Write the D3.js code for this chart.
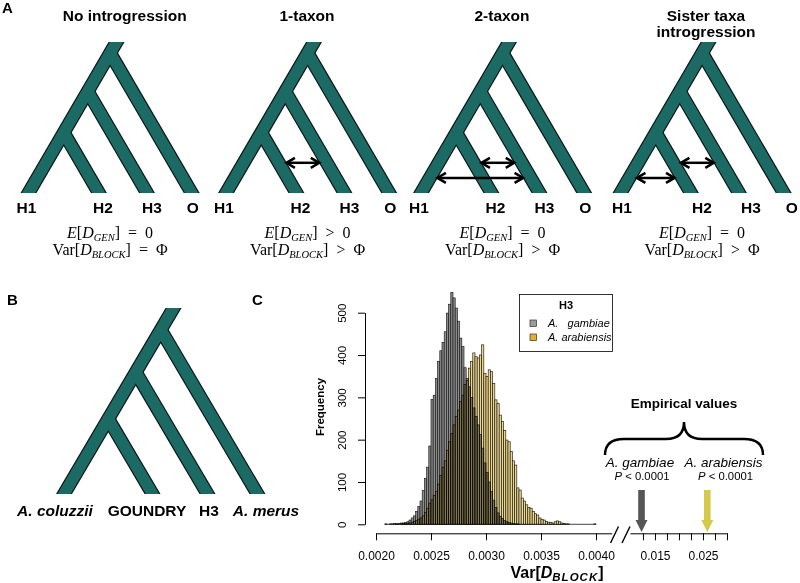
<!DOCTYPE html>
<html><head><meta charset="utf-8">
<script src="https://cdn.jsdelivr.net/npm/d3@7"></script>
<style>body{margin:0;background:#fff} svg{display:block}</style>
</head><body>
<svg id="c" width="800" height="583"></svg>
<script>
// ---------------- data ----------------
const panelATitles = [["No introgression"], ["1-taxon"], ["2-taxon"], ["Sister taxa", "introgression"]];
const leafLabels = ["H1", "H2", "H3", "O"];
const splitDepthsA = [0.40, 0.673, 0.927];          // relative split heights (H2, H3, O)
const genOps = ["=", ">", "=", "="];
const blockOps = ["=", ">", ">", ">"];
// introgression arrows: [from leaf, to leaf, relative height]
const introgression = [
  [],
  [["H2", "H3", 0.2]],
  [["H2", "H3", 0.2], ["H1", "H3", 0.1]],
  [["H2", "H3", 0.2], ["H1", "H2", 0.1]]
];

const leafLabelsB = ["A. coluzzii", "GOUNDRY", "H3", "A. merus"];
const leafItalicB = [true, false, false, true];
const splitDepthsB = [0.404, 0.655, 0.883];

const binStart = 0.00208, binWidth = 0.00002;
const gambiae = [1,0,1,1,2,1,2,3,3,4, 6,10,15,20,30,42,55,80,108,135,
  185,295,305,345,385,410,430,455,499,520, 548,535,511,480,440,420,370,345,325,300,
  275,255,235,212,180,145,122,100,78,57, 40,27,19,14,9,6,4,3,2,1, 1];
const arabiensis = [0,0,0,0,0,1,0,1,2,2, 2,3,5,7,9,12,15,20,28,38,
  50,58,68,78,95,115,135,150,175,195, 215,235,255,270,290,305,330,340,369,385,
  405,396,393,400,424,357,349,365,361,333, 294,286,258,243,222,199,195,172,150,140,
  86,81,62,55,46,40,38,30,25,22, 15,12,10,7,5,4,3,6,8,6,
  3,2,1,1,0,0,0,0,0,0, 0,0,0,0,0,1];
const yTicks = [0, 100, 200, 300, 400, 500];
const xTicksLeft = [0.0020, 0.0025, 0.0030, 0.0035, 0.0040];
const xTicksRight = [0.0125, 0.015, 0.0175, 0.020, 0.0225, 0.025, 0.0275, 0.030];
const xTickLabelsRight = [0.015, 0.025];
const seriesNames = ["A.   gambiae", "A. arabiensis"];
const empirical = [
  { name: "A. gambiae", value: 0.0122, p: "< 0.0001" },
  { name: "A. arabiensis", value: 0.0259, p: "< 0.0001" }
];

// ---------------- style / layout ----------------
const SANS = "'Liberation Sans', Arial, Helvetica, sans-serif";
const SERIF = "'Liberation Serif', 'Times New Roman', serif";
const TEAL = "#1b6b64";
const svg = d3.select("#c");

function panelLetter(t, x, y) {
  svg.append("text").attr("x", x).attr("y", y).attr("font-family", SANS)
    .attr("font-weight", "bold").attr("font-size", 15).text(t);
}
panelLetter("A", 2, 13);
panelLetter("B", 7, 305);
panelLetter("C", 252, 305);

let clipN = 0;
function drawTree(x0, base, top, depths, slope) {
  const H = base - top;
  const hy = d3.scaleLinear().domain([0, 1]).range([0, H]);
  const ext = 14;
  const leafX = [x0].concat(depths.map(d => x0 + 2 * slope * hy(d)));
  const segs = [[[x0 - slope * ext, base + ext], [x0 + slope * (H + ext), top - ext]]];
  depths.forEach((d, i) => {
    const h = hy(d);
    segs.push([[x0 + slope * h, base - h], [leafX[i + 1] + slope * ext, base + ext]]);
  });
  const id = "clip" + (clipN++);
  svg.append("clipPath").attr("id", id).append("rect")
    .attr("x", x0 - 60).attr("y", top).attr("width", 320).attr("height", H);
  const g = svg.append("g").attr("clip-path", `url(#${id})`);
  const line = d3.line();
  g.selectAll("path.o").data(segs).join("path").attr("class", "o")
    .attr("d", line).attr("stroke", "#0d1614").attr("stroke-width", 13.8).attr("fill", "none");
  g.selectAll("path.i").data(segs).join("path").attr("class", "i")
    .attr("d", line).attr("stroke", TEAL).attr("stroke-width", 11.4).attr("fill", "none");
  return {
    leafX,
    branchX: (idx, h) => idx === 0 ? x0 + slope * h : leafX[idx] - slope * h,
    hy
  };
}

function dblArrow(xa, xb, y) {
  const g = svg.append("g").attr("stroke", "#000").attr("stroke-width", 2.5).attr("fill", "none")
    .attr("stroke-linejoin", "miter");
  g.append("line").attr("x1", xa + 1).attr("x2", xb - 1).attr("y1", y).attr("y2", y);
  g.append("path").attr("d", `M${xb - 8.5},${y - 5}L${xb},${y}L${xb - 8.5},${y + 5}`);
  g.append("path").attr("d", `M${xa + 8.5},${y - 5}L${xa},${y}L${xa + 8.5},${y + 5}`);
}

function formulaLine(cx, y, parts) {
  const t = svg.append("text").attr("x", cx).attr("y", y).attr("text-anchor", "middle")
    .style("white-space", "pre").attr("font-family", SERIF).attr("font-size", 16);
  parts.forEach(p => {
    const ts = t.append("tspan").text(p.t);
    if (p.it) ts.attr("font-style", "italic");
    if (p.sub) ts.attr("font-size", 10.5).attr("dy", 3);
    if (p.up) ts.attr("dy", -3);
  });
}

// ---------------- Panel A ----------------
const treeX0 = [28.5, 226, 421, 620.5];
const titleX = [124.7, 307, 502, 706];
const labelShift = [0, 0, 0, 7];
const labelOff = [-2, 4, 5, 1];
const slopeA = 0.583, baseA = 193, topA = 42;
treeX0.forEach((x0, k) => {
  // title
  panelATitles[k].forEach((line, j) => {
    svg.append("text").attr("x", titleX[k]).attr("y", 21 + j * 16).attr("text-anchor", "middle")
      .attr("font-family", SANS).attr("font-weight", "bold").attr("font-size", 15.5).text(line);
  });
  const tr = drawTree(x0, baseA, topA, splitDepthsA, slopeA);
  // leaf labels
  leafLabels.forEach((lab, i) => {
    svg.append("text").attr("x", tr.leafX[i] + labelOff[i] + labelShift[k] * (i === 0 ? 0.5 : 1))
      .attr("y", 213).attr("text-anchor", "middle").attr("font-family", SANS)
      .attr("font-weight", "bold").attr("font-size", 15.5).text(lab);
  });
  // introgression arrows
  const halfW = 7.6;
  introgression[k].forEach(([a, b, d]) => {
    const ia = leafLabels.indexOf(a), ib = leafLabels.indexOf(b);
    const h = tr.hy(d);
    dblArrow(tr.branchX(ia, h) + halfW, tr.branchX(ib, h) - halfW, baseA - h);
  });
  // formulas
  const cx = (tr.leafX[0] + tr.leafX[3]) / 2;
  formulaLine(cx, 238, [{ t: "E", it: 1 }, { t: "[" }, { t: "D", it: 1 }, { t: "GEN", it: 1, sub: 1 },
    { t: "]", up: 1 }, { t: "  " + genOps[k] + "  0" }]);
  formulaLine(cx, 255, [{ t: "Var[" }, { t: "D", it: 1 }, { t: "BLOCK", it: 1, sub: 1 },
    { t: "]", up: 1 }, { t: "  " + blockOps[k] + "  \u03A6" }]);
});

// ---------------- Panel B ----------------
const trB = drawTree(64, 494, 308, splitDepthsB, 0.589);
const labelXB = [55, 147, 209, 266];
leafLabelsB.forEach((lab, i) => {
  svg.append("text").attr("x", labelXB[i]).attr("y", 516).attr("text-anchor", "middle")
    .attr("font-family", SANS).attr("font-weight", "bold").attr("font-size", 15.5)
    .attr("font-style", leafItalicB[i] ? "italic" : "normal").text(lab);
});

// ---------------- Panel C ----------------
const x = d3.scaleLinear().domain([0.002, 0.004143]).range([376, 376 + 0.002143 / 0.0005 * 55]);
const y = d3.scaleLinear().domain([0, 500]).range([524.3, 312.7]);
const xr = d3.scaleLinear().domain([0.0098, 0.030]).range([630, 727]);

const hist = svg.append("g");
function bars(counts, fill, blend) {
  const g = hist.append("g");
  if (blend) g.style("mix-blend-mode", "multiply");
  g.selectAll("rect").data(counts.map((c, i) => ({ c, i })).filter(d => d.c > 0)).join("rect")
    .attr("x", d => x(binStart + d.i * binWidth))
    .attr("width", d => x(binStart + (d.i + 1) * binWidth) - x(binStart + d.i * binWidth))
    .attr("y", d => y(d.c))
    .attr("height", d => y(0) - y(d.c))
    .attr("fill", fill).attr("stroke", "#161616").attr("stroke-width", 0.65);
}
bars(gambiae, "#8c8c8c", false);
bars(arabiensis, "#eed88a", true);
const nb = Math.max(gambiae.length, arabiensis.length);
hist.append("line").attr("x1", x(binStart)).attr("x2", x(binStart + nb * binWidth))
  .attr("y1", y(0)).attr("y2", y(0)).attr("stroke", "#161616").attr("stroke-width", 0.8);

// y axis
const yAxis = svg.append("g").attr("transform", "translate(365,0)")
  .call(d3.axisLeft(y).tickValues(yTicks).tickSize(7).tickSizeOuter(0));
yAxis.selectAll("text").attr("transform", "rotate(-90)").attr("x", 0).attr("y", -19).attr("dy", 0)
  .attr("text-anchor", "middle").attr("font-family", SANS).attr("font-size", 11.5).attr("fill", "#000");
yAxis.selectAll("line,path").attr("stroke", "#000");
svg.append("text").attr("transform", "translate(324,407) rotate(-90)").attr("text-anchor", "middle")
  .attr("font-family", SANS).attr("font-weight", "bold").attr("font-size", 11.5).text("Frequency");

// x axis left segment
const xAxis = svg.append("g").attr("transform", "translate(0,533.3)")
  .call(d3.axisBottom(x).tickValues(xTicksLeft).tickSize(7).tickSizeOuter(0).tickPadding(11)
    .tickFormat(d3.format(".4f")));
xAxis.selectAll("text").attr("font-family", SANS).attr("font-size", 12).attr("fill", "#000");
xAxis.selectAll("line,path").attr("stroke", "#000");
// right segment
const xAxisR = svg.append("g").attr("transform", "translate(0,533.3)")
  .call(d3.axisBottom(xr).tickValues(xTicksRight).tickSize(7).tickSizeOuter(0).tickPadding(11)
    .tickFormat(d => xTickLabelsRight.some(v => Math.abs(v - d) < 1e-9) ? d3.format(".3f")(d) : ""));
xAxisR.selectAll("text").attr("font-family", SANS).attr("font-size", 12).attr("fill", "#000");
xAxisR.selectAll("line,path").attr("stroke", "#000");
// break marks
svg.append("g").attr("stroke", "#000").attr("stroke-width", 1.4).selectAll("line")
  .data([610.5, 622]).join("line")
  .attr("x1", d => d).attr("y1", 543).attr("x2", d => d + 8).attr("y2", 526.5);

// x label Var[D_BLOCK]
{
  const t = svg.append("text").attr("x", 557).attr("y", 578).attr("text-anchor", "middle")
    .attr("font-family", SANS).attr("font-weight", "bold").attr("font-size", 16);
  t.append("tspan").text("Var[");
  t.append("tspan").attr("font-style", "italic").text("D");
  t.append("tspan").attr("font-style", "italic").attr("font-size", 11.5).attr("dy", 3).attr("letter-spacing", 1).text("BLOCK");
  t.append("tspan").attr("dy", -3).text("]");
}

// legend
{
  const lg = svg.append("g");
  lg.append("rect").attr("x", 519.5).attr("y", 294.5).attr("width", 93).attr("height", 57)
    .attr("fill", "#fff").attr("stroke", "#000").attr("stroke-width", 0.8);
  lg.append("text").attr("x", 566).attr("y", 309).attr("text-anchor", "middle")
    .attr("font-family", SANS).attr("font-weight", "bold").attr("font-size", 11).text("H3");
  const cols = ["#9b9b9b", "#e2b22e"];
  seriesNames.forEach((n, i) => {
    lg.append("rect").attr("x", 530).attr("y", 320 + i * 14).attr("width", 6.5).attr("height", 6.5)
      .attr("fill", cols[i]).attr("stroke", "#333").attr("stroke-width", 0.7);
    lg.append("text").attr("x", 548).attr("y", 326.5 + i * 14).style("white-space", "pre")
      .attr("font-family", SANS).attr("font-style", "italic").attr("font-size", 11).text(n);
  });
}

// empirical values
svg.append("text").attr("x", 684).attr("y", 408).attr("text-anchor", "middle")
  .attr("font-family", SANS).attr("font-weight", "bold").attr("font-size", 13.5).text("Empirical values");
svg.append("path")
  .attr("d", "M605,455 C605,444 611,439 624,439 L666,439 C678,439 684,433 684,422 C684,433 690,439 702,439 L744,439 C757,439 763,444 763,455")
  .attr("fill", "none").attr("stroke", "#000").attr("stroke-width", 2.5);
const labX = [640, 723.5];
const arrowCols = ["#555555", "#d5c94a"];
empirical.forEach((e, i) => {
  svg.append("text").attr("x", labX[i]).attr("y", 467).attr("text-anchor", "middle")
    .attr("font-family", SANS).attr("font-style", "italic").attr("font-size", 13.5).text(e.name);
  const t = svg.append("text").attr("x", labX[i] + 2).attr("y", 480).attr("text-anchor", "middle")
    .style("white-space", "pre").attr("font-family", SANS).attr("font-size", 11.3);
  t.append("tspan").attr("font-style", "italic").text("P");
  t.append("tspan").text(" " + e.p);
  const ax = xr(e.value);
  svg.append("path")
    .attr("d", `M${ax - 3.3},490 L${ax + 3.3},490 L${ax + 3.3},520 L${ax + 6},520 L${ax},532 L${ax - 6},520 L${ax - 3.3},520 Z`)
    .attr("fill", arrowCols[i]);
});
</script>
</body></html>
